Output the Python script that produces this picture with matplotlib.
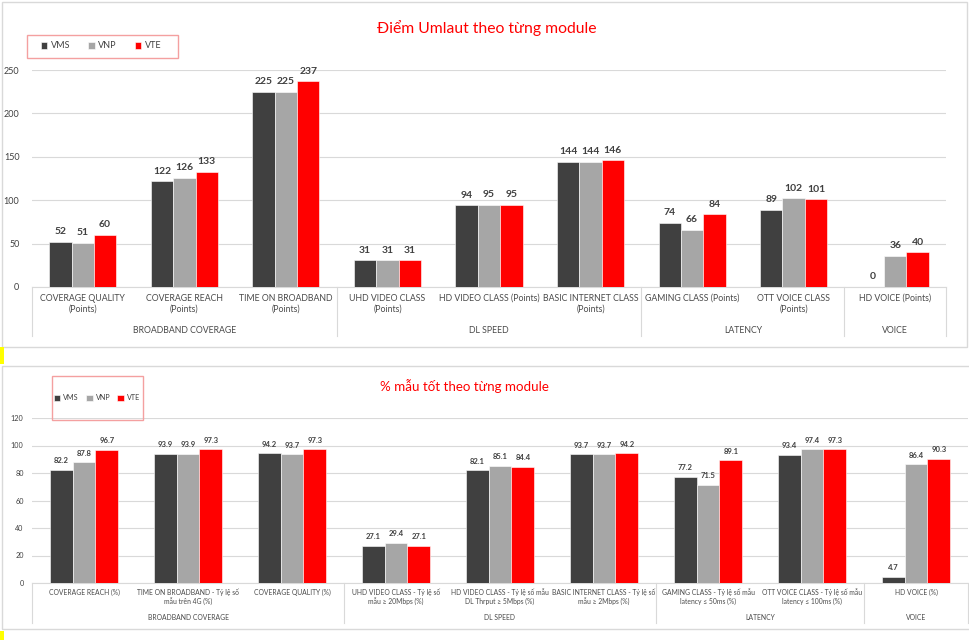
import numpy as np
import matplotlib.pyplot as plt
from matplotlib.patches import Rectangle

plt.rcParams['font.family'] = ['Lato', 'Noto Sans', 'DejaVu Sans']

W, H = 969, 640

operators = ['VMS', 'VNP', 'VTE']
colors = ['#404040', '#A6A6A6', '#FF0000']

groups = ['BROADBAND COVERAGE', 'DL SPEED', 'LATENCY', 'VOICE']
group_sizes = [3, 3, 2, 1]

# top chart: Umlaut points
cats_pts = ['COVERAGE QUALITY\n(Points)', 'COVERAGE REACH\n(Points)', 'TIME ON BROADBAND\n(Points)',
            'UHD VIDEO CLASS\n(Points)', 'HD VIDEO CLASS (Points)', 'BASIC INTERNET CLASS\n(Points)',
            'GAMING CLASS (Points)', 'OTT VOICE CLASS\n(Points)', 'HD VOICE (Points)']
vms_pts = [52, 122, 225, 31, 94, 144, 74, 89, 0]
vnp_pts = [51, 126, 225, 31, 95, 144, 66, 102, 36]
vte_pts = [60, 133, 237, 31, 95, 146, 84, 101, 40]

# bottom chart: % good samples
cats_pct = ['COVERAGE REACH (%)', 'TIME ON BROADBAND - Tỷ lệ số\nmẫu trên 4G (%)', 'COVERAGE QUALITY (%)',
            'UHD VIDEO CLASS - Tỷ lệ số\nmẫu ≥ 20Mbps (%)', 'HD VIDEO CLASS - Tỷ lệ số mẫu\nDL Thrput ≥ 5Mbps (%)',
            'BASIC INTERNET CLASS - Tỷ lệ số\nmẫu ≥ 2Mbps (%)', 'GAMING CLASS - Tỷ lệ số mẫu\nlatency ≤ 50ms (%)',
            'OTT VOICE CLASS - Tỷ lệ số mẫu\nlatency ≤ 100ms (%)', 'HD VOICE (%)']
vms_pct = [82.2, 93.9, 94.2, 27.1, 82.1, 93.7, 77.2, 93.4, 4.7]
vnp_pct = [87.8, 93.9, 93.7, 29.4, 85.1, 93.7, 71.5, 97.4, 86.4]
vte_pct = [96.7, 97.3, 97.3, 27.1, 84.4, 94.2, 89.1, 97.3, 90.3]


def fx(px):
    return px / W


def fy(py):
    return 1 - py / H


def axes_px(fig, x0, y0, x1, y1):
    return fig.add_axes([fx(x0), fy(y1), fx(x1) - fx(x0), fy(y0) - fy(y1)])


def draw_panel(ax, cats, series, ymax, step, fmt, fs_tick, fs_val, fs_cat, tickpad,
               cat_pad, grp_y, sep_y):
    x = np.arange(len(cats))
    w = 0.22
    for i, vals in enumerate(series):
        bars = ax.bar(x + (i - 1) * w, vals, w, color=colors[i], edgecolor='white', linewidth=0.4,
                      label=operators[i], zorder=3)
        ax.bar_label(bars, labels=[fmt.format(v) for v in vals], padding=4, fontsize=fs_val,
                     fontweight='bold', color='#404040')
    ax.set_xlim(-0.5, len(cats) - 0.5)
    ax.set_ylim(0, ymax)
    ax.set_yticks(np.arange(0, ymax + 1, step))
    ax.yaxis.grid(True, color='#D9D9D9', linewidth=0.8, zorder=0)
    ax.set_axisbelow(True)
    for s in ['top', 'right', 'left']:
        ax.spines[s].set_visible(False)
    ax.spines['bottom'].set_color('#D9D9D9')
    ax.tick_params(axis='y', length=0, labelsize=fs_tick, labelcolor='#404040', pad=tickpad)
    ax.set_xticks(x, cats)
    ax.tick_params(axis='x', length=0, labelsize=fs_cat, labelcolor='#4a4a4a', pad=cat_pad)

    # group separators and labels
    tr = ax.get_xaxis_transform()
    edges = np.concatenate([[0], np.cumsum(group_sizes)]) - 0.5
    for e in edges:
        ax.plot([e, e], [0, sep_y], transform=tr, color='#D9D9D9', linewidth=0.8, clip_on=False)
    for g, a, b in zip(groups, edges[:-1], edges[1:]):
        ax.text((a + b) / 2, grp_y, g, transform=tr, ha='center', va='center',
                fontsize=fs_cat, color='#4a4a4a')


fig = plt.figure(figsize=(W / 100, H / 100), dpi=100)

# panel frames and little yellow marks
fig.add_artist(Rectangle((fx(2), fy(347)), fx(965), 345 / H, transform=fig.transFigure,
                         fill=False, ec='#D9D9D9', lw=1))
fig.add_artist(Rectangle((fx(2), fy(629)), fx(970), 263 / H, transform=fig.transFigure,
                         fill=False, ec='#D9D9D9', lw=1))
fig.add_artist(Rectangle((0, fy(364)), fx(4), 17 / H, transform=fig.transFigure,
                         color='#FFFF00', lw=0))
fig.add_artist(Rectangle((0, 0), fx(4), 9 / H, transform=fig.transFigure,
                         color='#FFFF00', lw=0))

# top chart
ax1 = axes_px(fig, 32, 70, 946, 287)
draw_panel(ax1, cats_pts, [vms_pts, vnp_pts, vte_pts], 250, 50, '{:.0f}',
           fs_tick=6.5, fs_val=7.5, fs_cat=6.3, tickpad=9, cat_pad=5, grp_y=-0.2, sep_y=-0.225)
fig.text(fx(487), fy(28), 'Điểm Umlaut theo từng module', color='#FF0000', fontsize=11.3,
         ha='center', va='center')
fig.add_artist(Rectangle((fx(27), fy(58)), fx(151), 23 / H, transform=fig.transFigure,
                         fill=False, ec='#F4A0A0', lw=1))
h1, l1 = ax1.get_legend_handles_labels()
fig.legend(h1, l1, loc='center', bbox_to_anchor=(fx(101), fy(46)), ncol=3, frameon=False,
           fontsize=6.5, handlelength=0.7, handleheight=0.7, handletextpad=0.4,
           columnspacing=2.0, labelcolor='#404040')

# bottom chart
ax2 = axes_px(fig, 32, 418, 968, 583)
draw_panel(ax2, cats_pct, [vms_pct, vnp_pct, vte_pct], 120, 20, '{:.1f}',
           fs_tick=5.2, fs_val=5.5, fs_cat=4.9, tickpad=6, cat_pad=4, grp_y=-0.21, sep_y=-0.24)
fig.text(fx(464), fy(386), '% mẫu tốt theo từng module', color='#FF0000', fontsize=9.6,
         ha='center', va='center')
fig.add_artist(Rectangle((fx(52), fy(420)), fx(91), 44 / H, transform=fig.transFigure,
                         fill=False, ec='#F4A0A0', lw=1))
h2, l2 = ax2.get_legend_handles_labels()
fig.legend(h2, l2, loc='center', bbox_to_anchor=(fx(97), fy(398)), ncol=3, frameon=False,
           fontsize=5.2, handlelength=0.9, handleheight=0.9, handletextpad=0.4,
           columnspacing=1.0, labelcolor='#404040')

fig.savefig('out.png', dpi=100)
